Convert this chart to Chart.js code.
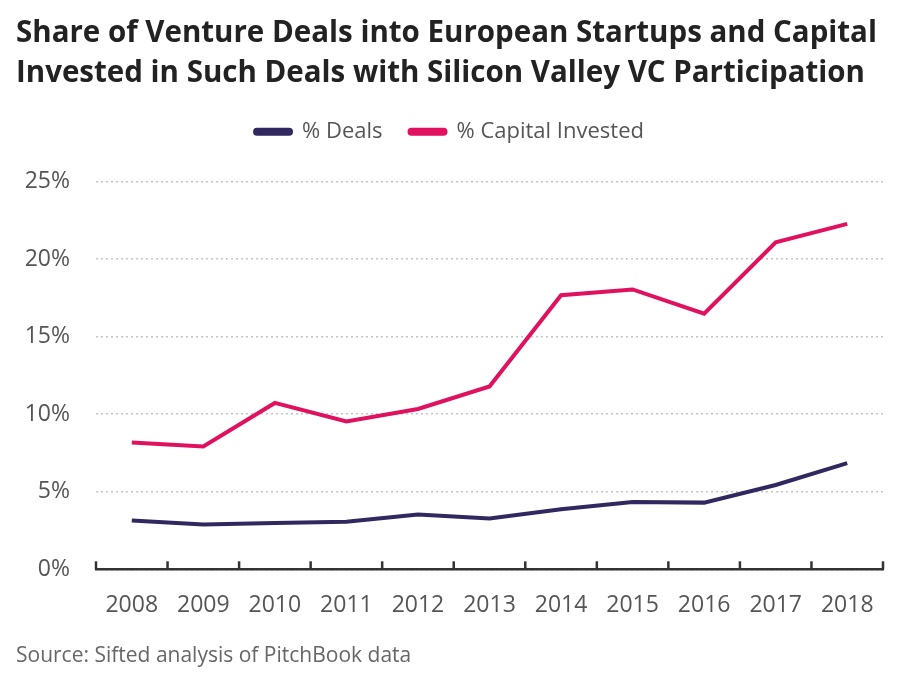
<!DOCTYPE html>
<html>
<head>
<meta charset="utf-8">
<script src="https://cdn.jsdelivr.net/npm/chart.js@4"></script>
<style>
  html, body { margin: 0; padding: 0; background: #fff; }
  #wrap { width: 906px; height: 677px; }
</style>
</head>
<body>
<div id="wrap"><canvas id="chart"></canvas></div>
<script>
const years = ['2008', '2009', '2010', '2011', '2012', '2013', '2014', '2015', '2016', '2017', '2018'];
const dealsShare = [3.15, 2.89, 2.98, 3.06, 3.54, 3.28, 3.87, 4.34, 4.30, 5.44, 6.85];
const capitalShare = [8.18, 7.92, 10.73, 9.54, 10.34, 11.79, 17.68, 18.05, 16.49, 21.09, 22.28];
const yTicks = [0, 5, 10, 15, 20, 25];

const navy = '#31285f';
const pink = '#e0115f';

// tick marks pointing up from the x axis, between the categories
const upTicks = {
  id: 'upTicks',
  afterDraw(chart) {
    const x = chart.scales.x;
    const ctx = chart.ctx;
    const bottom = chart.chartArea.bottom;
    ctx.save();
    ctx.strokeStyle = '#333';
    ctx.lineWidth = 2.5;
    for (let i = 0; i <= years.length; i++) {
      const px = x.getPixelForValue(i - 0.5);
      ctx.beginPath();
      ctx.moveTo(px, bottom);
      ctx.lineTo(px, bottom - 8);
      ctx.stroke();
    }
    ctx.restore();
  }
};

// extra room under the legend
const legendGap = {
  id: 'legendGap',
  beforeLayout(chart) {
    const legend = chart.legend;
    if (!legend || legend._gapped) return;
    const fit = legend.fit;
    legend.fit = function () {
      fit.call(this);
      this.height += 29;
    };
    legend._gapped = true;
  }
};

new Chart(document.getElementById('chart'), {
  type: 'line',
  data: {
    labels: years,
    datasets: [
      {
        label: '% Deals',
        data: dealsShare,
        borderColor: navy,
        backgroundColor: navy,
        borderWidth: 4,
        pointRadius: 0,
        tension: 0,
      },
      {
        label: '% Capital Invested',
        data: capitalShare,
        borderColor: pink,
        backgroundColor: pink,
        borderWidth: 4,
        pointRadius: 0,
        tension: 0,
      },
    ],
  },
  options: {
    responsive: true,
    maintainAspectRatio: false,
    animation: false,
    layout: { padding: { top: 14, left: 16, right: 23, bottom: 8 } },
    scales: {
      x: {
        offset: true,
        grid: { display: false, drawTicks: false },
        border: { display: true, color: '#333', width: 2.5 },
        ticks: {
          padding: 22,
          color: '#555',
          font: { family: 'Open Sans', size: 23 },
          maxRotation: 0,
        },
        afterFit(scale) { scale.height = 74.5; },
      },
      y: {
        min: 0,
        max: 25,
        afterBuildTicks(scale) { scale.ticks = yTicks.map((v) => ({ value: v })); },
        grid: { color: '#c4c4c4', lineWidth: 1.5, drawTicks: false },
        border: { display: false, dash: [2, 3] },
        ticks: {
          padding: 26,
          color: '#555',
          font: { family: 'Open Sans', size: 23 },
          callback: (v) => v + '%',
        },
        afterFit(scale) { scale.width = 80; },
      },
    },
    plugins: {
      title: {
        display: true,
        text: ['Share of Venture Deals into European Startups and Capital', 'Invested in Such Deals with Silicon Valley VC Participation'],
        align: 'start',
        color: '#222',
        font: { family: 'Open Sans', size: 29.5, weight: 'bold', lineHeight: 1.35 },
        padding: { top: 0, bottom: 0 },
      },
      subtitle: {
        display: true,
        position: 'bottom',
        align: 'start',
        text: 'Source: Sifted analysis of PitchBook data',
        color: '#666',
        font: { family: 'Open Sans', size: 21 },
        padding: { top: 0, bottom: 0 },
      },
      legend: {
        display: true,
        position: 'top',
        labels: {
          boxWidth: 36,
          boxHeight: 4,
          useBorderRadius: true,
          borderRadius: 2,
          padding: 27,
          color: '#555',
          font: { family: 'Open Sans', size: 22 },
        },
      },
      tooltip: { enabled: false },
    },
  },
  plugins: [upTicks, legendGap],
});
</script>
</body>
</html>
